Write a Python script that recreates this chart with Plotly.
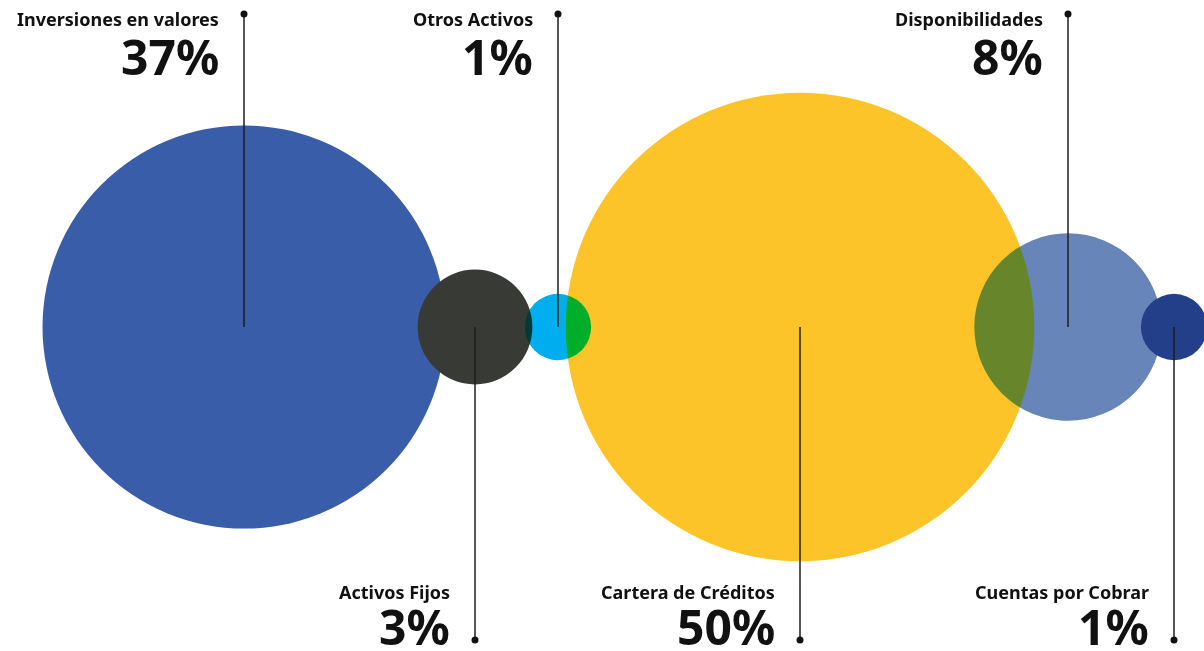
import plotly.graph_objects as go

# Asset composition (share of total assets, %)
categories = ["Inversiones en valores", "Activos Fijos", "Otros Activos",
              "Cartera de Créditos", "Disponibilidades", "Cuentas por Cobrar"]
shares = [37, 3, 1, 50, 8, 1]
share_labels = ["37%", "3%", "1%", "50%", "8%", "1%"]

# Layout: bubble centres along the x axis and label side (top / bottom)
centers_x = [244, 475, 558, 800, 1068, 1174]
label_side = ["top", "bottom", "top", "bottom", "top", "bottom"]
colors = ["#3A5DA9", "#383A36", "#00AEEF", "#FDC42A", "#6785B8", "#243F8A"]

W, H = 1204, 651
CY = 327
TOP_Y, BOTTOM_Y = 14, 640
# area-proportional bubbles: 37% -> ~403 px diameter
sizeref = 2 * 37 / 403 ** 2

fig = go.Figure()

fig.add_trace(go.Scatter(
    x=centers_x, y=[CY] * len(shares), mode="markers",
    marker=dict(size=shares, sizemode="area", sizeref=sizeref,
                color=colors, line=dict(width=0), opacity=1),
    hoverinfo="skip", showlegend=False,
))

# leader lines and end dots
for cx, side in zip(centers_x, label_side):
    y_end = TOP_Y if side == "top" else BOTTOM_Y
    fig.add_trace(go.Scatter(
        x=[cx, cx], y=[CY, y_end], mode="lines",
        line=dict(color="#1e1e1e", width=1.5),
        hoverinfo="skip", showlegend=False,
    ))
    fig.add_trace(go.Scatter(
        x=[cx], y=[y_end], mode="markers",
        marker=dict(size=7, color="#111111"),
        hoverinfo="skip", showlegend=False,
    ))

FONT = "Noto Sans"
for name, lab, cx, side in zip(categories, share_labels, centers_x, label_side):
    if side == "top":
        y_name, y_pct = 18.5, 56
    else:
        y_name, y_pct = 591.5, 626
    fig.add_annotation(x=cx, y=y_name, text=f"<b>{name}</b>", showarrow=False,
                       xanchor="right", yanchor="middle", xshift=-23,
                       font=dict(family=FONT, size=18, color="#111111"))
    fig.add_annotation(x=cx, y=y_pct, text=f"<b>{lab}</b>", showarrow=False,
                       xanchor="right", yanchor="middle", xshift=-23,
                       font=dict(family=FONT, size=48, color="#111111"))

fig.update_layout(
    width=W, height=H,
    margin=dict(l=0, r=0, t=0, b=0),
    paper_bgcolor="white", plot_bgcolor="white",
    xaxis=dict(range=[0, W], visible=False, fixedrange=True),
    yaxis=dict(range=[H, 0], visible=False, fixedrange=True),
)

# overlapping bubbles combine with a "darken" blend
blend_js = """
var gd = document.getElementById('{plot_id}');
var pts = gd.querySelectorAll('.scatterlayer .trace:first-child .point');
pts.forEach(function(p){ p.style.mixBlendMode = 'darken'; });
"""

fig.write_html("out.html", post_script=blend_js)
